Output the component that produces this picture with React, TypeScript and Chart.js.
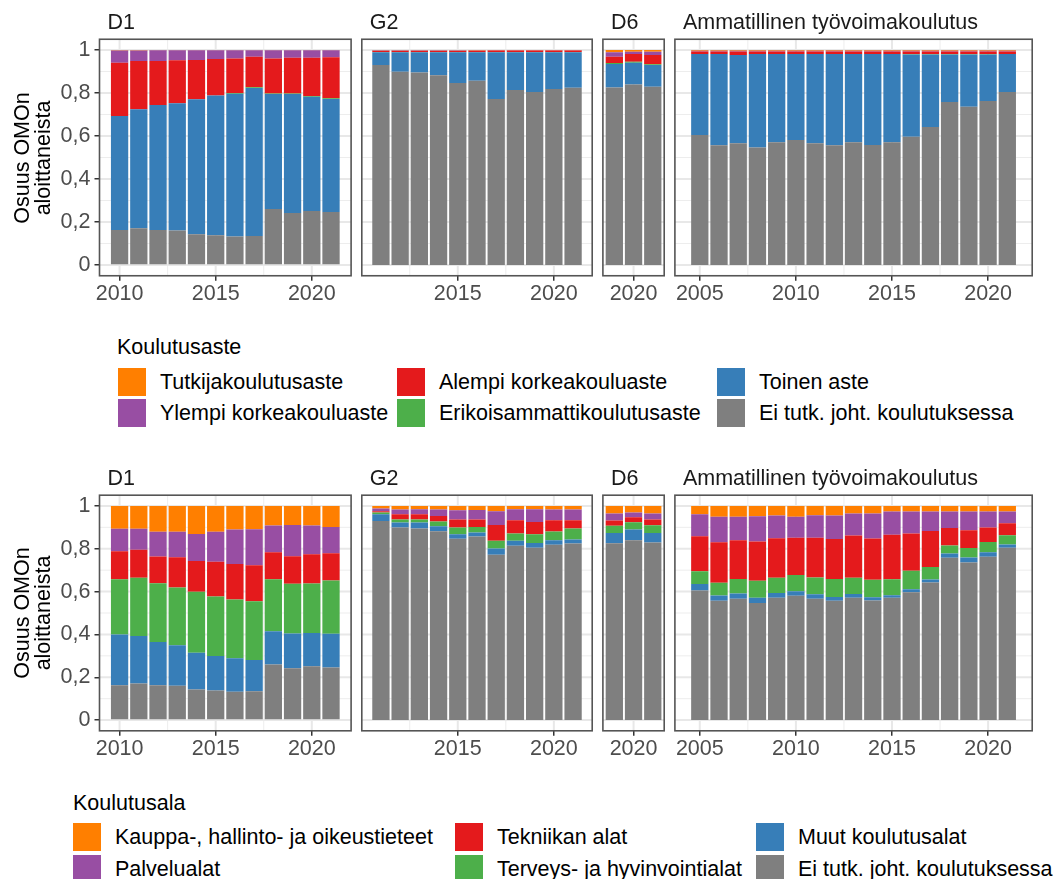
import React, { useEffect, useRef } from 'react';
import { Chart, registerables } from 'chart.js';
Chart.register(...registerables);

const FONT = "'Liberation Sans', Arial, Helvetica, sans-serif";
const FS = 21.5;

// ---------- categories ----------
const yearsD1 = [2010, 2011, 2012, 2013, 2014, 2015, 2016, 2017, 2018, 2019, 2020, 2021];
const yearsG2 = [2011, 2012, 2013, 2014, 2015, 2016, 2017, 2018, 2019, 2020, 2021];
const yearsD6 = [2019, 2020, 2021];
const yearsAmm = [2005, 2006, 2007, 2008, 2009, 2010, 2011, 2012, 2013, 2014, 2015, 2016, 2017, 2018, 2019, 2020, 2021];

// series order (bottom -> top of stack)
const asteSeries = ['Ei tutk. joht. koulutuksessa', 'Toinen aste', 'Erikoisammattikoulutusaste', 'Alempi korkeakouluaste', 'Ylempi korkeakouluaste', 'Tutkijakoulutusaste'];
const alaSeries = ['Ei tutk. joht. koulutuksessa', 'Muut koulutusalat', 'Terveys- ja hyvinvointialat', 'Tekniikan alat', 'Palvelualat', 'Kauppa-, hallinto- ja oikeustieteet'];
const seriesColors = ['#7F7F7F', '#377EB8', '#4DAF4A', '#E41A1C', '#984EA3', '#FF7F00'];

// ---------- tick labels ----------
const yTicks = [0, 0.2, 0.4, 0.6, 0.8, 1];
const yMinor = [0.1, 0.3, 0.5, 0.7, 0.9];
const xTicks = [2005, 2010, 2015, 2020];
const xMinor = [2002.5, 2007.5, 2012.5, 2017.5, 2022.5];

// ---------- Koulutusaste (top row) ----------
const asteD1 = [
  [0.163, 0.171, 0.163, 0.160, 0.143, 0.138, 0.132, 0.135, 0.260, 0.242, 0.251, 0.246],
  [0.530, 0.553, 0.581, 0.592, 0.628, 0.650, 0.665, 0.688, 0.535, 0.553, 0.532, 0.526],
  [0, 0, 0, 0, 0, 0, 0.003, 0.004, 0.003, 0.003, 0.003, 0.004],
  [0.248, 0.225, 0.205, 0.200, 0.182, 0.170, 0.161, 0.142, 0.163, 0.166, 0.178, 0.190],
  [0.057, 0.049, 0.050, 0.047, 0.046, 0.041, 0.038, 0.030, 0.038, 0.035, 0.035, 0.033],
  [0.002, 0.002, 0.001, 0.001, 0.001, 0.001, 0.001, 0.001, 0.001, 0.001, 0.001, 0.001],
];
const asteG2 = [
  [0.930, 0.899, 0.895, 0.882, 0.847, 0.857, 0.772, 0.814, 0.805, 0.819, 0.825],
  [0.060, 0.091, 0.095, 0.108, 0.143, 0.133, 0.218, 0.176, 0.185, 0.171, 0.165],
  [0.001, 0.001, 0.001, 0.001, 0.001, 0.001, 0.001, 0.001, 0.001, 0.001, 0.001],
  [0.004, 0.004, 0.004, 0.004, 0.004, 0.005, 0.007, 0.007, 0.007, 0.007, 0.007],
  [0.003, 0.003, 0.003, 0.003, 0.003, 0.002, 0.001, 0.001, 0.001, 0.001, 0.001],
  [0.002, 0.002, 0.002, 0.002, 0.002, 0.002, 0.001, 0.001, 0.001, 0.001, 0.001],
];
const asteD6 = [
  [0.826, 0.840, 0.829],
  [0.109, 0.101, 0.101],
  [0.004, 0.004, 0.004],
  [0.030, 0.036, 0.043],
  [0.020, 0.011, 0.015],
  [0.011, 0.008, 0.008],
];
const asteAmm = [
  [0.605, 0.557, 0.566, 0.547, 0.571, 0.581, 0.566, 0.557, 0.571, 0.558, 0.571, 0.597, 0.642, 0.758, 0.736, 0.763, 0.805],
  [0.376, 0.424, 0.411, 0.434, 0.410, 0.400, 0.415, 0.424, 0.410, 0.423, 0.410, 0.382, 0.337, 0.221, 0.243, 0.216, 0.176],
  [0, 0, 0, 0, 0, 0, 0, 0, 0, 0, 0, 0.002, 0.002, 0.002, 0.002, 0.002, 0],
  [0.012, 0.012, 0.016, 0.012, 0.012, 0.012, 0.012, 0.012, 0.012, 0.012, 0.012, 0.012, 0.012, 0.012, 0.012, 0.012, 0.012],
  [0.004, 0.004, 0.004, 0.004, 0.004, 0.004, 0.004, 0.004, 0.004, 0.004, 0.004, 0.004, 0.004, 0.004, 0.004, 0.004, 0.004],
  [0.003, 0.003, 0.003, 0.003, 0.003, 0.003, 0.003, 0.003, 0.003, 0.003, 0.003, 0.003, 0.003, 0.003, 0.003, 0.003, 0.003],
];

// ---------- Koulutusala (bottom row) ----------
const alaD1 = [
  [0.163, 0.171, 0.163, 0.160, 0.143, 0.138, 0.132, 0.135, 0.260, 0.242, 0.251, 0.246],
  [0.237, 0.222, 0.202, 0.190, 0.171, 0.161, 0.157, 0.145, 0.155, 0.162, 0.156, 0.157],
  [0.258, 0.271, 0.274, 0.269, 0.285, 0.278, 0.274, 0.275, 0.243, 0.232, 0.231, 0.249],
  [0.130, 0.131, 0.125, 0.141, 0.144, 0.162, 0.166, 0.168, 0.126, 0.129, 0.136, 0.127],
  [0.105, 0.098, 0.115, 0.119, 0.126, 0.140, 0.161, 0.168, 0.124, 0.146, 0.134, 0.123],
  [0.107, 0.107, 0.121, 0.121, 0.131, 0.121, 0.110, 0.109, 0.092, 0.089, 0.092, 0.098],
];
const alaG2 = [
  [0.930, 0.899, 0.895, 0.882, 0.847, 0.857, 0.772, 0.814, 0.805, 0.819, 0.825],
  [0.031, 0.023, 0.027, 0.023, 0.021, 0.019, 0.029, 0.023, 0.022, 0.021, 0.018],
  [0.008, 0.014, 0.014, 0.022, 0.031, 0.026, 0.036, 0.034, 0.041, 0.040, 0.051],
  [0.006, 0.025, 0.025, 0.026, 0.037, 0.034, 0.074, 0.062, 0.057, 0.053, 0.039],
  [0.013, 0.022, 0.023, 0.030, 0.044, 0.045, 0.064, 0.051, 0.059, 0.050, 0.050],
  [0.012, 0.017, 0.016, 0.017, 0.020, 0.019, 0.025, 0.016, 0.016, 0.017, 0.017],
];
const alaD6 = [
  [0.826, 0.840, 0.829],
  [0.048, 0.050, 0.044],
  [0.033, 0.034, 0.037],
  [0.025, 0.023, 0.026],
  [0.032, 0.022, 0.028],
  [0.036, 0.031, 0.036],
];
const alaAmm = [
  [0.605, 0.557, 0.566, 0.547, 0.571, 0.581, 0.566, 0.557, 0.571, 0.558, 0.571, 0.597, 0.642, 0.758, 0.736, 0.763, 0.805],
  [0.030, 0.025, 0.025, 0.024, 0.022, 0.021, 0.022, 0.018, 0.018, 0.016, 0.012, 0.014, 0.014, 0.020, 0.023, 0.021, 0.015],
  [0.060, 0.059, 0.068, 0.079, 0.071, 0.076, 0.078, 0.084, 0.075, 0.081, 0.075, 0.086, 0.059, 0.037, 0.045, 0.048, 0.043],
  [0.163, 0.189, 0.181, 0.184, 0.185, 0.173, 0.185, 0.187, 0.198, 0.193, 0.207, 0.174, 0.168, 0.082, 0.082, 0.067, 0.056],
  [0.103, 0.119, 0.109, 0.118, 0.106, 0.098, 0.105, 0.109, 0.102, 0.116, 0.109, 0.103, 0.091, 0.077, 0.088, 0.075, 0.055],
  [0.039, 0.051, 0.051, 0.048, 0.045, 0.051, 0.044, 0.045, 0.036, 0.036, 0.026, 0.026, 0.026, 0.026, 0.026, 0.026, 0.026],
];

// ---------- layout (panel boxes) ----------
const colRects: [number, number][] = [
  [99.5, 251.6],
  [361.8, 230.4],
  [602.9, 61.3],
  [674.9, 357.3],
];
const rowRects: [number, number][] = [
  [39.25, 236.5],
  [495.2, 235.6],
];

const fmtY = (v: number) => {
  if (Math.abs(v) < 1e-9) return '0';
  if (Math.abs(v - 1) < 1e-9) return '1';
  return v.toFixed(1).replace('.', ',');
};

const decoPlugin = {
  id: 'panelDeco',
  beforeDatasetsDraw(chart: any) {
    const { ctx, chartArea: a, scales } = chart;
    const x = scales.x;
    const y = scales.y;
    ctx.save();
    ctx.beginPath();
    ctx.rect(a.left, a.top, a.width, a.height);
    ctx.clip();
    const vline = (v: number, w: number) => {
      if (v < x.min || v > x.max) return;
      const px = x.getPixelForValue(v);
      ctx.lineWidth = w;
      ctx.beginPath();
      ctx.moveTo(px, a.top);
      ctx.lineTo(px, a.bottom);
      ctx.stroke();
    };
    const hline = (v: number, w: number) => {
      const py = y.getPixelForValue(v);
      ctx.lineWidth = w;
      ctx.beginPath();
      ctx.moveTo(a.left, py);
      ctx.lineTo(a.right, py);
      ctx.stroke();
    };
    ctx.strokeStyle = '#EDEDED';
    xMinor.forEach((v) => vline(v, 1));
    yMinor.forEach((v) => hline(v, 1));
    ctx.strokeStyle = '#E8E8E8';
    xTicks.forEach((v) => vline(v, 2));
    yTicks.forEach((v) => hline(v, 2));
    ctx.restore();
  },
  afterDraw(chart: any) {
    const { ctx, chartArea: a } = chart;
    ctx.save();
    ctx.strokeStyle = '#555555';
    ctx.lineWidth = 1.6;
    ctx.strokeRect(a.left, a.top, a.width, a.height);
    ctx.restore();
  },
};

type PanelProps = {
  years: number[];
  matrix: number[][];
  series: string[];
  col: number;
  row: number;
  showY: boolean;
};

const X_AXIS_H = 40;

function Panel({ years, matrix, series, col, row, showY }: PanelProps) {
  const ref = useRef<HTMLCanvasElement>(null);
  const [pl, pw] = colRects[col];
  const [pt, ph] = rowRects[row];
  const canvasLeft = showY ? 40 : Math.floor(pl) - 4;
  const canvasTop = Math.floor(pt) - (showY ? 20 : 4);
  const canvasRight = Math.ceil(pl + pw) + 4;
  const canvasBottom = Math.ceil(pt + ph + X_AXIS_H) + 1;
  const W = canvasRight - canvasLeft;
  const H = canvasBottom - canvasTop;
  const padT = pt - canvasTop;
  const padR = canvasRight - (pl + pw);
  const padB = canvasBottom - (pt + ph + X_AXIS_H);
  const padL = showY ? 2 : pl - canvasLeft;
  const yW = showY ? pl - canvasLeft - 2 : 0;

  useEffect(() => {
    if (!ref.current) return;
    const span = years[years.length - 1] - years[0] + 0.9;
    const xMin = years[0] - 0.45 - 0.05 * span;
    const xMax = years[years.length - 1] + 0.45 + 0.05 * span;
    const datasets = series.map((name, i) => ({
      label: name,
      data: years.map((yr, j) => ({ x: yr, y: matrix[i][j] })),
      backgroundColor: seriesColors[i],
      borderWidth: 0,
      barPercentage: 0.9,
      categoryPercentage: 1,
      stack: 's',
    }));
    const tickGrid = {
      display: true,
      offset: false,
      drawOnChartArea: false,
      drawTicks: true,
      tickLength: 5,
      tickColor: '#333333',
      lineWidth: 1.5,
    };
    const chart = new Chart(ref.current, {
      type: 'bar',
      data: { datasets } as any,
      plugins: [decoPlugin],
      options: {
        animation: false,
        responsive: false,
        maintainAspectRatio: false,
        layout: { padding: { left: padL, right: padR, top: padT, bottom: padB } },
        plugins: { legend: { display: false }, tooltip: { enabled: false } },
        scales: {
          x: {
            type: 'linear',
            stacked: true,
            offset: false,
            min: xMin,
            max: xMax,
            afterBuildTicks: (s: any) => {
              s.ticks = xTicks.filter((v) => v >= xMin && v <= xMax).map((v) => ({ value: v }));
            },
            afterFit: (s: any) => {
              s.height = X_AXIS_H;
            },
            grid: tickGrid,
            border: { display: false },
            ticks: {
              color: '#4D4D4D',
              font: { family: FONT, size: FS },
              padding: 0,
              maxRotation: 0,
              autoSkip: false,
              callback: (v: any) => String(v),
            },
          },
          y: {
            type: 'linear',
            stacked: true,
            display: showY,
            min: -0.05,
            max: 1.05,
            afterBuildTicks: (s: any) => {
              s.ticks = yTicks.map((v) => ({ value: v }));
            },
            afterFit: (s: any) => {
              s.width = yW;
            },
            grid: tickGrid,
            border: { display: false },
            ticks: {
              color: '#4D4D4D',
              font: { family: FONT, size: FS },
              padding: 4,
              autoSkip: false,
              callback: (v: any) => fmtY(Number(v)),
            },
          },
        },
      } as any,
    });
    return () => chart.destroy();
  }, []);

  return (
    <canvas
      ref={ref}
      width={W}
      height={H}
      style={{ position: 'absolute', left: canvasLeft, top: canvasTop, width: W, height: H }}
    />
  );
}

const stripNames = ['D1', 'G2', 'D6', 'Ammatillinen työvoimakoulutus'];
const stripTops = [11, 467];

function Strip({ col, row }: { col: number; row: number }) {
  return (
    <div
      style={{
        position: 'absolute',
        left: colRects[col][0] + 8,
        top: stripTops[row],
        fontSize: FS,
        lineHeight: '22px',
        color: '#1A1A1A',
        whiteSpace: 'nowrap',
      }}
    >
      {stripNames[col]}
    </div>
  );
}

function YTitle({ row }: { row: number }) {
  const [pt, ph] = rowRects[row];
  const cy = pt + ph / 2;
  return (
    <div
      style={{
        position: 'absolute',
        left: 32.5 - 100,
        top: cy - 21,
        width: 200,
        height: 42,
        lineHeight: '21px',
        fontSize: FS,
        textAlign: 'center',
        transform: 'rotate(-90deg)',
        color: '#000',
        whiteSpace: 'nowrap',
      }}
    >
      <div>Osuus OMOn</div>
      <div>aloittaneista</div>
    </div>
  );
}

type LegendProps = {
  title: string;
  titleX: number;
  titleY: number;
  items: { label: string; color: string; x: number; textX: number; y: number }[];
};

function Legend({ title, titleX, titleY, items }: LegendProps) {
  return (
    <>
      <div
        style={{
          position: 'absolute',
          left: titleX,
          top: titleY - 11,
          fontSize: FS,
          lineHeight: '22px',
          color: '#000',
          whiteSpace: 'nowrap',
        }}
      >
        {title}
      </div>
      {items.map((it, i) => (
        <React.Fragment key={i}>
          <div
            style={{
              position: 'absolute',
              left: it.x,
              top: it.y,
              width: 28,
              height: 28,
              background: it.color,
            }}
          />
          <div
            style={{
              position: 'absolute',
              left: it.textX,
              top: it.y + 3,
              fontSize: FS,
              lineHeight: '22px',
              color: '#000',
              whiteSpace: 'nowrap',
            }}
          >
            {it.label}
          </div>
        </React.Fragment>
      ))}
    </>
  );
}

// legend item order: [series index, column, row]
const topLegendOrder = [
  [5, 0, 0], [4, 0, 1], [3, 1, 0], [2, 1, 1], [1, 2, 0], [0, 2, 1],
];
const bottomLegendOrder = topLegendOrder;
const topLegendCols = [[118, 160], [397, 439], [717, 759]];
const bottomLegendCols = [[73, 115], [455, 497], [756, 798]];
const topLegendRows = [367.5, 399];
const bottomLegendRows = [823, 854.5];

export default function App() {
  const topItems = topLegendOrder.map(([s, c, r]) => ({
    label: asteSeries[s],
    color: seriesColors[s],
    x: topLegendCols[c][0],
    textX: topLegendCols[c][1],
    y: topLegendRows[r],
  }));
  const bottomItems = bottomLegendOrder.map(([s, c, r]) => ({
    label: alaSeries[s],
    color: seriesColors[s],
    x: bottomLegendCols[c][0],
    textX: bottomLegendCols[c][1],
    y: bottomLegendRows[r],
  }));
  return (
    <div
      style={{
        position: 'absolute',
        left: 0,
        top: 0,
        width: 1061,
        height: 879,
        overflow: 'hidden',
        background: '#fff',
        fontFamily: FONT,
      }}
    >
      <Panel years={yearsD1} matrix={asteD1} series={asteSeries} col={0} row={0} showY />
      <Panel years={yearsG2} matrix={asteG2} series={asteSeries} col={1} row={0} showY={false} />
      <Panel years={yearsD6} matrix={asteD6} series={asteSeries} col={2} row={0} showY={false} />
      <Panel years={yearsAmm} matrix={asteAmm} series={asteSeries} col={3} row={0} showY={false} />
      <Panel years={yearsD1} matrix={alaD1} series={alaSeries} col={0} row={1} showY />
      <Panel years={yearsG2} matrix={alaG2} series={alaSeries} col={1} row={1} showY={false} />
      <Panel years={yearsD6} matrix={alaD6} series={alaSeries} col={2} row={1} showY={false} />
      <Panel years={yearsAmm} matrix={alaAmm} series={alaSeries} col={3} row={1} showY={false} />
      {[0, 1, 2, 3].map((c) => (
        <React.Fragment key={c}>
          <Strip col={c} row={0} />
          <Strip col={c} row={1} />
        </React.Fragment>
      ))}
      <YTitle row={0} />
      <YTitle row={1} />
      <Legend title="Koulutusaste" titleX={117} titleY={347} items={topItems} />
      <Legend title="Koulutusala" titleX={73} titleY={803} items={bottomItems} />
    </div>
  );
}
